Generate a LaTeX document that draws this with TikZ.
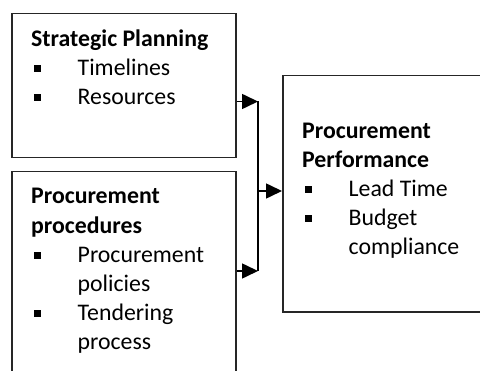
\documentclass[tikz,border=0pt]{standalone}
\usepackage{fontspec}
\setmainfont{Carlito}
\usetikzlibrary{arrows.meta}
\newcommand{\bul}{\makebox[46.5pt][l]{\hspace{2.5pt}\rule[3.7pt]{7pt}{7pt}}}
\newcommand{\cont}{\hspace*{46.5pt}}

\begin{document}
\begin{tikzpicture}[x=1pt, y=-1pt, box/.style={draw=black!85, line width=1.5pt, inner sep=0pt, anchor=north west}, txt/.style={inner sep=0pt, anchor=base west, align=left, font=\fontsize{23.8}{29.2}\selectfont}, arr/.style={line width=1.6pt, -{Triangle[length=16pt, width=15pt]}}]
\useasboundingbox (0,0) rectangle (480,371);
\node[box, minimum width=224pt, minimum height=144pt] (plan) at (11,13){};
\node[box, minimum width=224pt, minimum height=230pt] (proc) at (11,171){};
\node[box, minimum width=220pt, minimum height=236.5pt] (perf) at (282,75){};
% base anchor sits on the last line
\node[txt] (plantxt) at (31,104.5){\textbf{Strategic Planning}\\ \bul Timelines\\ \bul Resources};
\node[txt] (proctxt) at (31,350){\textbf{Procurement}\\ \textbf{procedures}\\ \bul Procurement\\ \cont policies\\ \bul Tendering\\ \cont process};
\node[txt] (perftxt) at (302,255){\textbf{Procurement}\\ \textbf{Performance}\\ \bul Lead Time\\ \bul Budget\\ \cont compliance};
\coordinate (j1) at (258,101.5);
\coordinate (j2) at (258,271);
\coordinate (jm) at (258,191);
\draw[arr] (plan.east |- j1) -- (j1);
\draw[arr] (proc.east |- j2) -- (j2);
\draw[line width=1.6pt] (j1) -- (j2);
\draw[arr] (jm) -- (perf.west |- jm);
\end{tikzpicture}
\end{document}
